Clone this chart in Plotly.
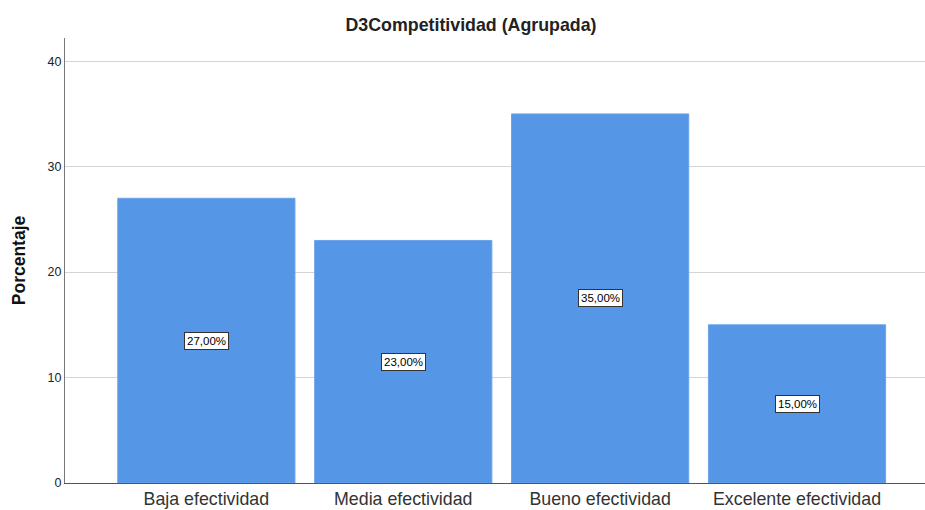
import plotly.graph_objects as go

categories = ["Baja efectividad", "Media efectividad", "Bueno efectividad", "Excelente efectividad"]
values = [27.0, 23.0, 35.0, 15.0]
labels = ["27,00%", "23,00%", "35,00%", "15,00%"]
y_ticks = [0, 10, 20, 30, 40]

fig = go.Figure()
fig.add_trace(go.Bar(
    x=list(range(len(categories))), y=values, width=0.9,
    marker=dict(color="#5596e6", line=dict(color="#6aa3ea", width=1)),
    hoverinfo="skip",
))
for i, (v, t) in enumerate(zip(values, labels)):
    fig.add_annotation(x=i, y=v / 2, text=t, showarrow=False,
                       font=dict(family="Liberation Sans, Arial", size=11.5, color="#000"),
                       bgcolor="white", bordercolor="#333", borderwidth=1, borderpad=2)

fig.update_layout(
    width=925, height=510,
    margin=dict(l=65, r=0, t=38, b=27),
    paper_bgcolor="white", plot_bgcolor="white",
    showlegend=False,
    font=dict(family="Liberation Sans, Arial", color="#222"),
    title=dict(text="<b>D3Competitividad (Agrupada)</b>", x=471 / 925, xanchor="center",
               y=1 - 25 / 510, yanchor="middle",
               font=dict(size=17.8, color="#222")),
    xaxis=dict(range=[-0.718, 3.65], tickmode="array", tickvals=list(range(len(categories))),
               ticktext=categories, showgrid=False, showline=True, linecolor="#555",
               linewidth=1, ticks="", tickfont=dict(size=17.8, color="#333"), zeroline=False),
    yaxis=dict(range=[0, 42.2], tickvals=y_ticks, showgrid=True, gridcolor="#d4d4d4",
               showline=True, linecolor="#777", linewidth=1, ticks="", ticklen=0,
               tickfont=dict(size=12.5, color="#222"), zeroline=False,
               title=dict(text="<b>Porcentaje</b>", font=dict(size=17.5, color="#111"), standoff=17)),
)
fig.write_html("out.html")
